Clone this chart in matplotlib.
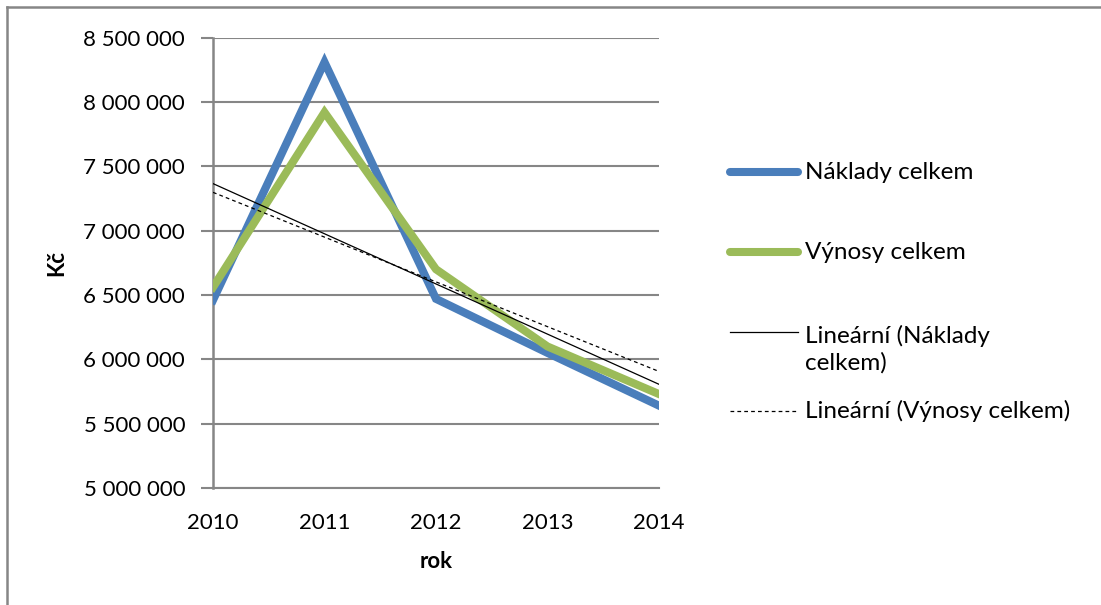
import matplotlib
matplotlib.use("Agg")
import matplotlib.pyplot as plt
from matplotlib.lines import Line2D
import numpy as np

years = [2010, 2011, 2012, 2013, 2014]
naklady = [6460000, 8310000, 6470000, 6050000, 5640000]
vynosy = [6560000, 7920000, 6700000, 6100000, 5730000]
yticks = [5000000, 5500000, 6000000, 6500000, 7000000, 7500000, 8000000, 8500000]
legend_labels = ["Náklady celkem", "Výnosy celkem", "Lineární (Náklady\ncelkem)", "Lineární (Výnosy celkem)"]

plt.rcParams['font.family'] = ['Lato', 'DejaVu Sans']

W, H = 1101, 605
fig = plt.figure(figsize=(W / 100, H / 100), dpi=100)
ax = fig.add_axes([213 / W, 1 - 488 / H, (659 - 213) / W, (488 - 37.7) / H])

blue = '#4A7EBB'
green = '#9BBB59'
grid = '#868686'

x = np.arange(len(years))
ax.plot(x, naklady, color=blue, lw=5.8, solid_joinstyle='miter', zorder=3)
ax.plot(x, vynosy, color=green, lw=5.8, solid_joinstyle='miter', zorder=3)

# linear trendlines (least squares fits of the series)
pn = np.polyfit(x, naklady, 1)
pv = np.polyfit(x, vynosy, 1)
ax.plot(x, np.polyval(pn, x), color='black', lw=0.9, zorder=4)
ax.plot(x, np.polyval(pv, x), color='black', lw=0.9, ls=(0, (3, 2.5)), zorder=4)

ax.set_xlim(0, len(years) - 1)
ax.set_ylim(5000000, 8500000)
ax.set_yticks(yticks)
ax.set_yticklabels([f"{v:,}".replace(",", " ") for v in yticks])
ax.set_xticks(x)
ax.set_xticklabels([str(y) for y in years])
ax.grid(axis='y', color=grid, lw=1.5)
ax.set_axisbelow(True)
for s in ['top', 'right']:
    ax.spines[s].set_visible(False)
ax.spines['left'].set_color(grid)
ax.spines['left'].set_linewidth(1.8)
ax.spines['bottom'].set_color(grid)
ax.spines['bottom'].set_linewidth(1.5)
ax.tick_params(axis='y', length=9, width=1.5, color=grid, pad=11, labelsize=16)
ax.tick_params(axis='x', length=0, pad=18, labelsize=16)

ax.set_xlabel('rok', fontsize=16, fontweight='bold', labelpad=13)
ax.set_ylabel('Kč', fontsize=16, fontweight='bold', labelpad=12)

# legend drawn manually
def fx(px):
    return px / W

def fy(py):
    return 1 - py / H

entries = [
    (legend_labels[0], dict(color=blue, lw=5.8, solid_capstyle='round'), 172, 172),
    (legend_labels[1], dict(color=green, lw=5.8, solid_capstyle='round'), 252, 252),
    (legend_labels[2], dict(color='black', lw=0.9), 332, 349),
    (legend_labels[3], dict(color='black', lw=0.9, ls=(0, (3, 2.5))), 411, 411),
]
for lab, style, py, ty in entries:
    fig.add_artist(Line2D([fx(730), fx(798)], [fy(py), fy(py)], transform=fig.transFigure, **style))
    fig.text(fx(805), fy(ty), lab, fontsize=17.5, va='center', ha='left', linespacing=1.3)

# outer border (top and left)
fig.add_artist(Line2D([fx(7), fx(W)], [fy(7), fy(7)], transform=fig.transFigure, color=grid, lw=1.8))
fig.add_artist(Line2D([fx(7), fx(7)], [fy(7), fy(H)], transform=fig.transFigure, color=grid, lw=1.8))

fig.savefig('out.png', dpi=100)
